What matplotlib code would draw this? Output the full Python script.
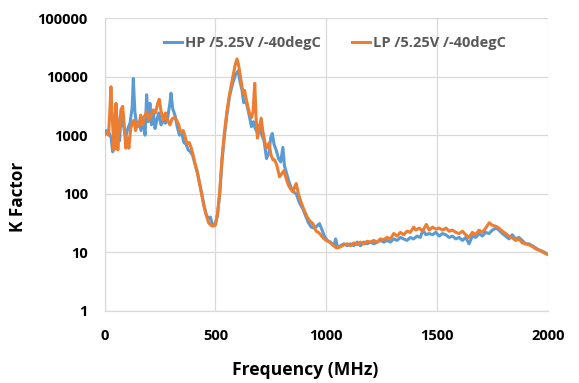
import matplotlib
matplotlib.use("Agg")
import matplotlib.pyplot as plt
from matplotlib.ticker import FixedLocator, FixedFormatter, NullLocator

hp_freq = [0, 10, 20, 30, 37, 45, 52, 60, 68, 76, 85, 95, 105, 115, 125, 130, 137, 145, 155, 165,
           175, 183, 190, 198, 205, 212, 220, 228, 236, 245, 255, 265, 275, 285, 295, 300, 308, 318,
           328, 338, 348, 358, 368, 378, 388, 398, 408, 418, 428, 438, 448, 458, 468, 478, 484, 492,
           500, 510, 520, 530, 540, 552, 565, 580, 592, 603, 612, 620, 628, 636, 645, 655, 663, 672,
           680, 690, 700, 710, 720, 731, 742, 750, 757, 765, 775, 785, 795, 805, 812, 822, 835, 850,
           865, 880, 895, 910, 920, 933, 945, 958, 970, 980, 992, 1005, 1020, 1035, 1043, 1052, 1065,
           1080, 1095, 1110, 1125, 1140, 1155, 1170, 1185, 1200, 1215, 1230, 1245, 1260, 1275, 1290,
           1305, 1320, 1335, 1350, 1365, 1380, 1395, 1410, 1425, 1437, 1450, 1465, 1480, 1495, 1510,
           1525, 1540, 1555, 1570, 1585, 1600, 1615, 1630, 1645, 1660, 1675, 1690, 1705, 1720, 1735,
           1750, 1767, 1780, 1795, 1810, 1825, 1840, 1855, 1870, 1885, 1900, 1915, 1930, 1945, 1960,
           1975, 1990, 2000]
hp_k = [1050, 1200, 1100, 900, 520, 1500, 2600, 1600, 800, 2700, 1500, 900, 1300, 1600, 3000, 9300,
        2500, 1500, 1700, 1200, 2000, 1000, 4900, 1700, 3500, 1500, 2600, 1300, 1800, 2400, 1500, 1800,
        1600, 2000, 3500, 5200, 2800, 2200, 1400, 1000, 1100, 750, 700, 560, 520, 450, 320, 240, 160,
        105, 65, 45, 38, 40, 32, 30, 30, 45, 100, 350, 900, 2200, 4800, 8000, 11000, 12500, 8000, 6000,
        3600, 4000, 3000, 2000, 1400, 1700, 1300, 1100, 1500, 1000, 800, 400, 500, 900, 1070, 700, 550,
        400, 350, 620, 300, 220, 150, 110, 100, 70, 55, 40, 32, 27, 26, 28, 31, 25, 19, 16, 15, 13, 17,
        12, 13, 14, 13, 14, 13, 15, 13, 15, 14, 15, 14, 15, 16, 15, 16, 15, 17, 16, 18, 17, 16, 18, 17,
        19, 18, 24, 20, 21, 20, 22, 19, 21, 20, 18, 19, 17, 18, 16, 18, 14, 19, 18, 21, 19, 22, 21, 24,
        26, 24, 21, 19, 17, 20, 17, 18, 16, 14, 14, 13, 12, 11, 10.5, 9.8, 9.3]

lp_freq = [0, 10, 18, 24, 29, 35, 43, 48, 52, 56, 60, 66, 75, 82, 89, 96, 103, 110, 118, 125, 133,
           140, 148, 155, 163, 172, 180, 190, 200, 210, 220, 230, 240, 247, 255, 265, 275, 285, 295,
           305, 315, 325, 335, 345, 355, 362, 372, 382, 392, 400, 410, 420, 430, 440, 450, 460, 470,
           480, 490, 500, 510, 520, 530, 540, 552, 565, 578, 590, 598, 606, 615, 625, 632, 640, 648,
           655, 663, 670, 678, 684, 690, 698, 707, 714, 720, 730, 742, 752, 760, 768, 778, 790, 800,
           810, 820, 830, 840, 850, 858, 865, 875, 885, 895, 905, 915, 925, 940, 955, 965, 975, 985,
           1000, 1015, 1030, 1045, 1053, 1065, 1080, 1095, 1110, 1125, 1140, 1155, 1170, 1185, 1200,
           1215, 1230, 1245, 1260, 1275, 1290, 1305, 1320, 1335, 1350, 1365, 1380, 1395, 1405, 1420,
           1435, 1452, 1465, 1480, 1495, 1510, 1525, 1541, 1555, 1570, 1585, 1600, 1615, 1630, 1645,
           1660, 1675, 1690, 1705, 1720, 1736, 1750, 1765, 1780, 1795, 1810, 1825, 1841, 1855, 1870,
           1885, 1900, 1915, 1932, 1945, 1960, 1975, 1990, 2000]
lp_k = [1000, 1100, 1000, 2500, 6700, 2000, 560, 2000, 3500, 1500, 560, 1200, 2800, 3100, 1500, 600,
        900, 600, 1300, 1600, 1800, 1200, 1600, 1400, 2200, 1500, 2100, 2500, 1800, 2200, 2700, 2400,
        3500, 4100, 2600, 1800, 2400, 1800, 1500, 1900, 2000, 1820, 1500, 1100, 1200, 1000, 700, 750,
        600, 450, 310, 220, 140, 90, 60, 42, 32, 29, 28, 29, 45, 110, 400, 1000, 2500, 5200, 9500,
        16000, 20000, 15000, 9000, 5200, 5800, 4000, 3000, 2300, 2000, 2500, 7700, 2000, 890, 1300,
        1950, 1200, 890, 600, 730, 450, 380, 380, 300, 195, 220, 250, 180, 140, 120, 108, 130, 150,
        100, 75, 60, 48, 40, 35, 31, 23, 22, 20, 18, 16, 15, 13.5, 12, 12, 12.5, 13.5, 14, 13, 14.5,
        13.5, 15, 14, 15.5, 15, 16, 15, 17, 16.5, 18, 17, 21, 19, 22, 20, 23, 22, 27, 24, 26, 23, 30,
        24, 27, 25, 26, 24, 26, 23, 24, 22, 21, 23, 20, 18, 22, 20, 24, 22, 26, 32, 29, 28, 26, 23,
        21, 19, 17.5, 16, 17, 14.5, 14, 13.5, 12.5, 11.5, 11, 10.2, 9.6, 9.2]

x_ticks = [0, 500, 1000, 1500, 2000]
y_ticks = [1, 10, 100, 1000, 10000, 100000]
y_tick_labels = ["1", "10", "100", "1000", "10000", "100000"]
series_names = ["HP /5.25V /-40degC", "LP /5.25V /-40degC"]

fig = plt.figure(figsize=(5.79, 3.83), dpi=100)
ax = fig.add_axes([0.1805, 0.188, 0.7655, 0.765])

ax.plot(hp_freq, hp_k, color="#5b9bd5", lw=2.2, label=series_names[0], zorder=3)
ax.plot(lp_freq, lp_k, color="#ed7d31", lw=2.2, label=series_names[1], zorder=4)

ax.set_yscale("log")
ax.set_xlim(0, 2000)
ax.set_ylim(1, 100000)
ax.yaxis.set_major_locator(FixedLocator(y_ticks))
ax.yaxis.set_major_formatter(FixedFormatter(y_tick_labels))
ax.yaxis.set_minor_locator(NullLocator())
ax.set_xticks(x_ticks)
ax.set_xticklabels([str(t) for t in x_ticks])

ax.grid(True, color="#d9d9d9", lw=0.9)
ax.set_axisbelow(True)
for s in ["top", "right"]:
    ax.spines[s].set_visible(False)
for s in ["left", "bottom"]:
    ax.spines[s].set_color("#d9d9d9")
    ax.spines[s].set_linewidth(0.9)
ax.tick_params(length=0, pad=12)
for lbl in ax.get_xticklabels() + ax.get_yticklabels():
    lbl.set_fontfamily("Open Sans")
    lbl.set_fontweight("bold")
    lbl.set_fontsize(10.5)
    lbl.set_color("black")
ax.tick_params(axis="x", pad=13)

ax.set_xlabel("Frequency (MHz)", fontfamily="Open Sans", fontweight="bold", fontsize=12.6)
ax.set_ylabel("K Factor", fontfamily="Open Sans", fontweight="bold", fontsize=12.3)
ax.xaxis.label.set_verticalalignment("center")
ax.yaxis.label.set_verticalalignment("center")
ax.xaxis.set_label_coords(0.453, -0.203)
ax.yaxis.set_label_coords(-0.195, 0.389)

leg = ax.legend(loc="center", bbox_to_anchor=(0.52, 0.915), ncol=2, frameon=False,
                handlelength=1.2, handletextpad=0.2, columnspacing=2.2,
                prop={"family": "Open Sans", "weight": "bold", "size": 10.5})
for t in leg.get_texts():
    t.set_color("#595959")

fig.savefig("out.png", dpi=100)
